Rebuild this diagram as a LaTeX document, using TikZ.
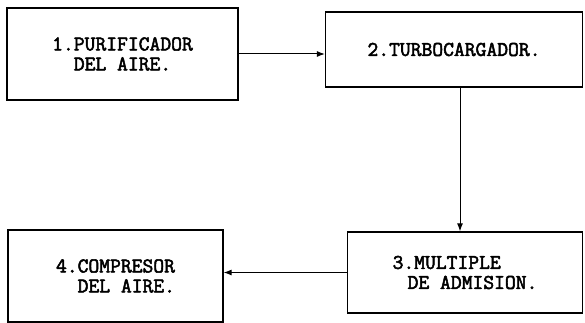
\documentclass[tikz,border=0pt]{standalone}
\usepackage{fontspec}
\newfontfamily\cajafont{Latin Modern Mono}[FakeBold=2.5]
\usetikzlibrary{arrows.meta}

\begin{document}
\begin{tikzpicture}[x=1pt,y=-1pt,
        caja/.style={draw=black, line width=1.3pt, align=left, inner sep=0pt,
            font=\cajafont\fontsize{21}{20}\selectfont},
        flecha/.style={draw=black, line width=1pt, -{Latex[length=8pt,width=6pt]}}]
        % Fix the page size
        \useasboundingbox (0,0) rectangle (585,323);

        % The four boxes
        \node[caja, minimum width=231pt, minimum height=92pt] (b1) at (122.5,54)
            {1.PURIFICADOR\\\phantom{12}DEL AIRE.};
        \node[caja, minimum width=257pt, minimum height=75pt] (b2) at (454,49.5)
            {2.TURBOCARGADOR.};
        \node[caja, minimum width=235pt, minimum height=81pt] (b3) at (465,272.5)
            {3.MULTIPLE\\\hspace{15pt}DE ADMISION.};
        \node[caja, minimum width=215pt, minimum height=92pt] (b4) at (115.5,276)
            {4.COMPRESOR\\\phantom{12}DEL AIRE.};

        % Connections
        \draw[flecha] (b1.east) -- (b1.east -| b2.west);
        \draw[flecha] ([xshift=6pt]b2.south) -- ([xshift=-5pt]b3.north);
        \draw[flecha] (b3.west) -- (b3.west -| b4.east);
    \end{tikzpicture}
\end{document}
